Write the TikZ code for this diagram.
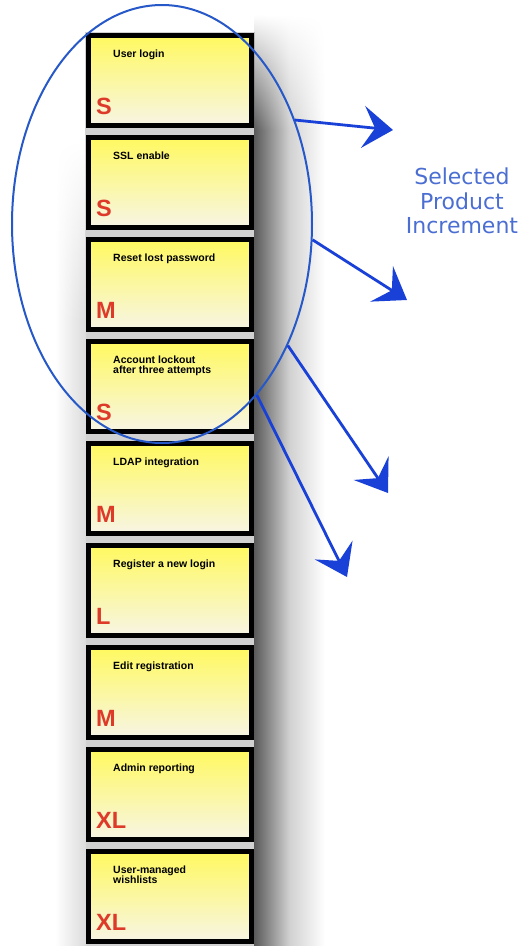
\documentclass[tikz,border=0pt]{standalone}
\usepackage{fontspec}
\usepackage{tikz}
\usetikzlibrary{positioning, shapes.geometric, arrows.meta, fadings}
\newfontfamily\cartefont{Liberation Sans}
\newfontfamily\blocfont{DejaVu Sans}
\definecolor{jaune}{RGB}{255,249,95}
\definecolor{creme}{RGB}{247,245,228}
\definecolor{rouge}{RGB}{222,58,42}
\definecolor{bleuE}{RGB}{38,88,200}
\definecolor{bleuF}{RGB}{25,65,215}
\definecolor{bleuT}{RGB}{75,110,210}
\tikzfading[name=fondu haut, top color=transparent!100, bottom color=transparent!0]

\begin{document}
\begin{tikzpicture}[
		x=1pt, y=1pt,
		carte/.style={rectangle, draw=black, line width=5pt, minimum width=163pt, minimum height=90pt, inner sep=0pt, outer sep=0pt, top color=jaune, bottom color=creme},
		titre/.style={anchor=north west, inner sep=0pt, align=left, font=\cartefont\bfseries\fontsize{10.5}{10}\selectfont},
		taille/.style={anchor=base west, inner sep=0pt, text=rouge, font=\cartefont\bfseries\fontsize{23.5}{24}\selectfont},
		zone/.style={ellipse, draw=bleuE, line width=2pt, minimum width=300pt, minimum height=438pt},
		fleche/.style={draw=bleuF, line width=2.8pt, -{Stealth[length=30pt, width=42pt, inset=12pt]}},
		ombreD/.style={left color=black!65, right color=white, middle color=black!18},
		ombreG/.style={left color=white, right color=black!14}
		]
		\useasboundingbox (0,0) rectangle (529,-946);
		
		% L'ombre de la colonne
		\fill[black!18] (85,-32) rectangle (255,-946);
		\shade[ombreD, path fading=fondu haut] (254,-15) rectangle (325,-130);
		\shade[ombreD] (254,-130) rectangle (325,-946);
		\shade[ombreG, path fading=fondu haut] (55,-140) rectangle (86,-320);
		\shade[ombreG] (55,-320) rectangle (86,-946);
		
		% Les cartes
		\node[carte] (c1) at (169.5,-80) {};
		\node[carte, below=12pt of c1] (c2) {};
		\node[carte, below=12pt of c2] (c3) {};
		\node[carte, below=12pt of c3] (c4) {};
		\node[carte, below=12pt of c4] (c5) {};
		\node[carte, below=12pt of c5] (c6) {};
		\node[carte, below=12pt of c6] (c7) {};
		\node[carte, below=12pt of c7] (c8) {};
		\node[carte, below=12pt of c8] (c9) {};
		
		% Les titres
		\node[titre] (t1) at ([shift={(25,-15)}]c1.north west) {User login};
		\node[titre] (t2) at ([shift={(25,-15)}]c2.north west) {SSL enable};
		\node[titre] (t3) at ([shift={(25,-15)}]c3.north west) {Reset lost password};
		\node[titre] (t4) at ([shift={(25,-15)}]c4.north west) {Account lockout\\after three attempts};
		\node[titre] (t5) at ([shift={(25,-15)}]c5.north west) {LDAP integration};
		\node[titre] (t6) at ([shift={(25,-15)}]c6.north west) {Register a new login};
		\node[titre] (t7) at ([shift={(25,-15)}]c7.north west) {Edit registration};
		\node[titre] (t8) at ([shift={(25,-15)}]c8.north west) {Admin reporting};
		\node[titre] (t9) at ([shift={(25,-15)}]c9.north west) {User-managed\\wishlists};
		
		% Les tailles
		\node[taille] (s1) at ([shift={(8,11)}]c1.south west) {S};
		\node[taille] (s2) at ([shift={(8,11)}]c2.south west) {S};
		\node[taille] (s3) at ([shift={(8,11)}]c3.south west) {M};
		\node[taille] (s4) at ([shift={(8,11)}]c4.south west) {S};
		\node[taille] (s5) at ([shift={(8,11)}]c5.south west) {M};
		\node[taille] (s6) at ([shift={(8,11)}]c6.south west) {L};
		\node[taille] (s7) at ([shift={(8,11)}]c7.south west) {M};
		\node[taille] (s8) at ([shift={(8,11)}]c8.south west) {XL};
		\node[taille] (s9) at ([shift={(8,11)}]c9.south west) {XL};
		
		% La selection et le texte
		\node[zone] (sel) at (162,-224) {};
		\node[text=bleuT, align=center, inner sep=0pt, font=\blocfont\fontsize{22}{24.5}\selectfont] (inc) at (462,-201) {Selected\\Product\\Increment};
		
		% Les fleches
		\coordinate (p1) at (393,-130);
		\coordinate (p2) at (407,-300);
		\coordinate (p3) at (388,-493);
		\coordinate (p4) at (347,-577);
		\draw[fleche] (sel.38) -- (p1);
		\draw[fleche] (sel.-6) -- (p2);
		\draw[fleche] (sel.-44) -- (p3);
		\draw[fleche] (sel.-61) -- (p4);
	\end{tikzpicture}
\end{document}
